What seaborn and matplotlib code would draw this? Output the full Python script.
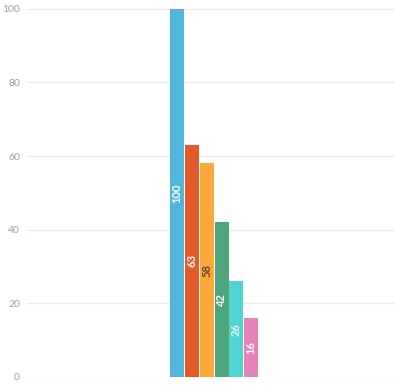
import numpy as np
import pandas as pd
import seaborn as sns
import matplotlib.pyplot as plt

# Datos
series = ["A", "B", "C", "D", "E", "F"]
valores = [100, 63, 58, 42, 26, 16]
colores = ["#52b5dc", "#e35a28", "#fda838", "#4ea57a", "#4fd4d0", "#e582b7"]
color_texto = ["white", "white", "#5a4a2a", "white", "white", "white"]

df = pd.DataFrame({"grupo": [""] * len(series), "serie": series, "valor": valores})

sns.set_style("white")
plt.rcParams['font.family'] = ['Lato', 'DejaVu Sans']

fig = plt.figure(figsize=(3.95, 3.85), dpi=100)
ax = fig.add_axes([0.068, 0.021, 0.932, 0.956])

sns.barplot(data=df, x="grupo", y="valor", hue="serie", palette=colores,
            saturation=1, width=0.8, gap=0.06, ax=ax, legend=False,
            edgecolor="none")

ax.set_ylim(0, 100)
ax.set_xlim(-1.69, 1.63)
ax.set_yticks([0, 20, 40, 60, 80, 100])
ax.yaxis.grid(True, color="#ebebeb", linewidth=0.8)
ax.set_axisbelow(True)
for s in ax.spines.values():
    s.set_visible(False)
ax.tick_params(axis="y", length=0, labelsize=7.5, labelcolor="#8fa0b5", pad=5)
ax.tick_params(axis="x", length=0, labelbottom=False)
ax.set_xlabel("")
ax.set_ylabel("")

# Etiquetas dentro de las barras
for bar, v, c in zip(ax.patches, valores, color_texto):
    x = bar.get_x() + bar.get_width() / 2
    ax.text(x, v / 2, str(v), rotation=90, ha="center", va="center",
            fontsize=8, fontweight="bold", color=c)

plt.savefig("out.png", dpi=100)
